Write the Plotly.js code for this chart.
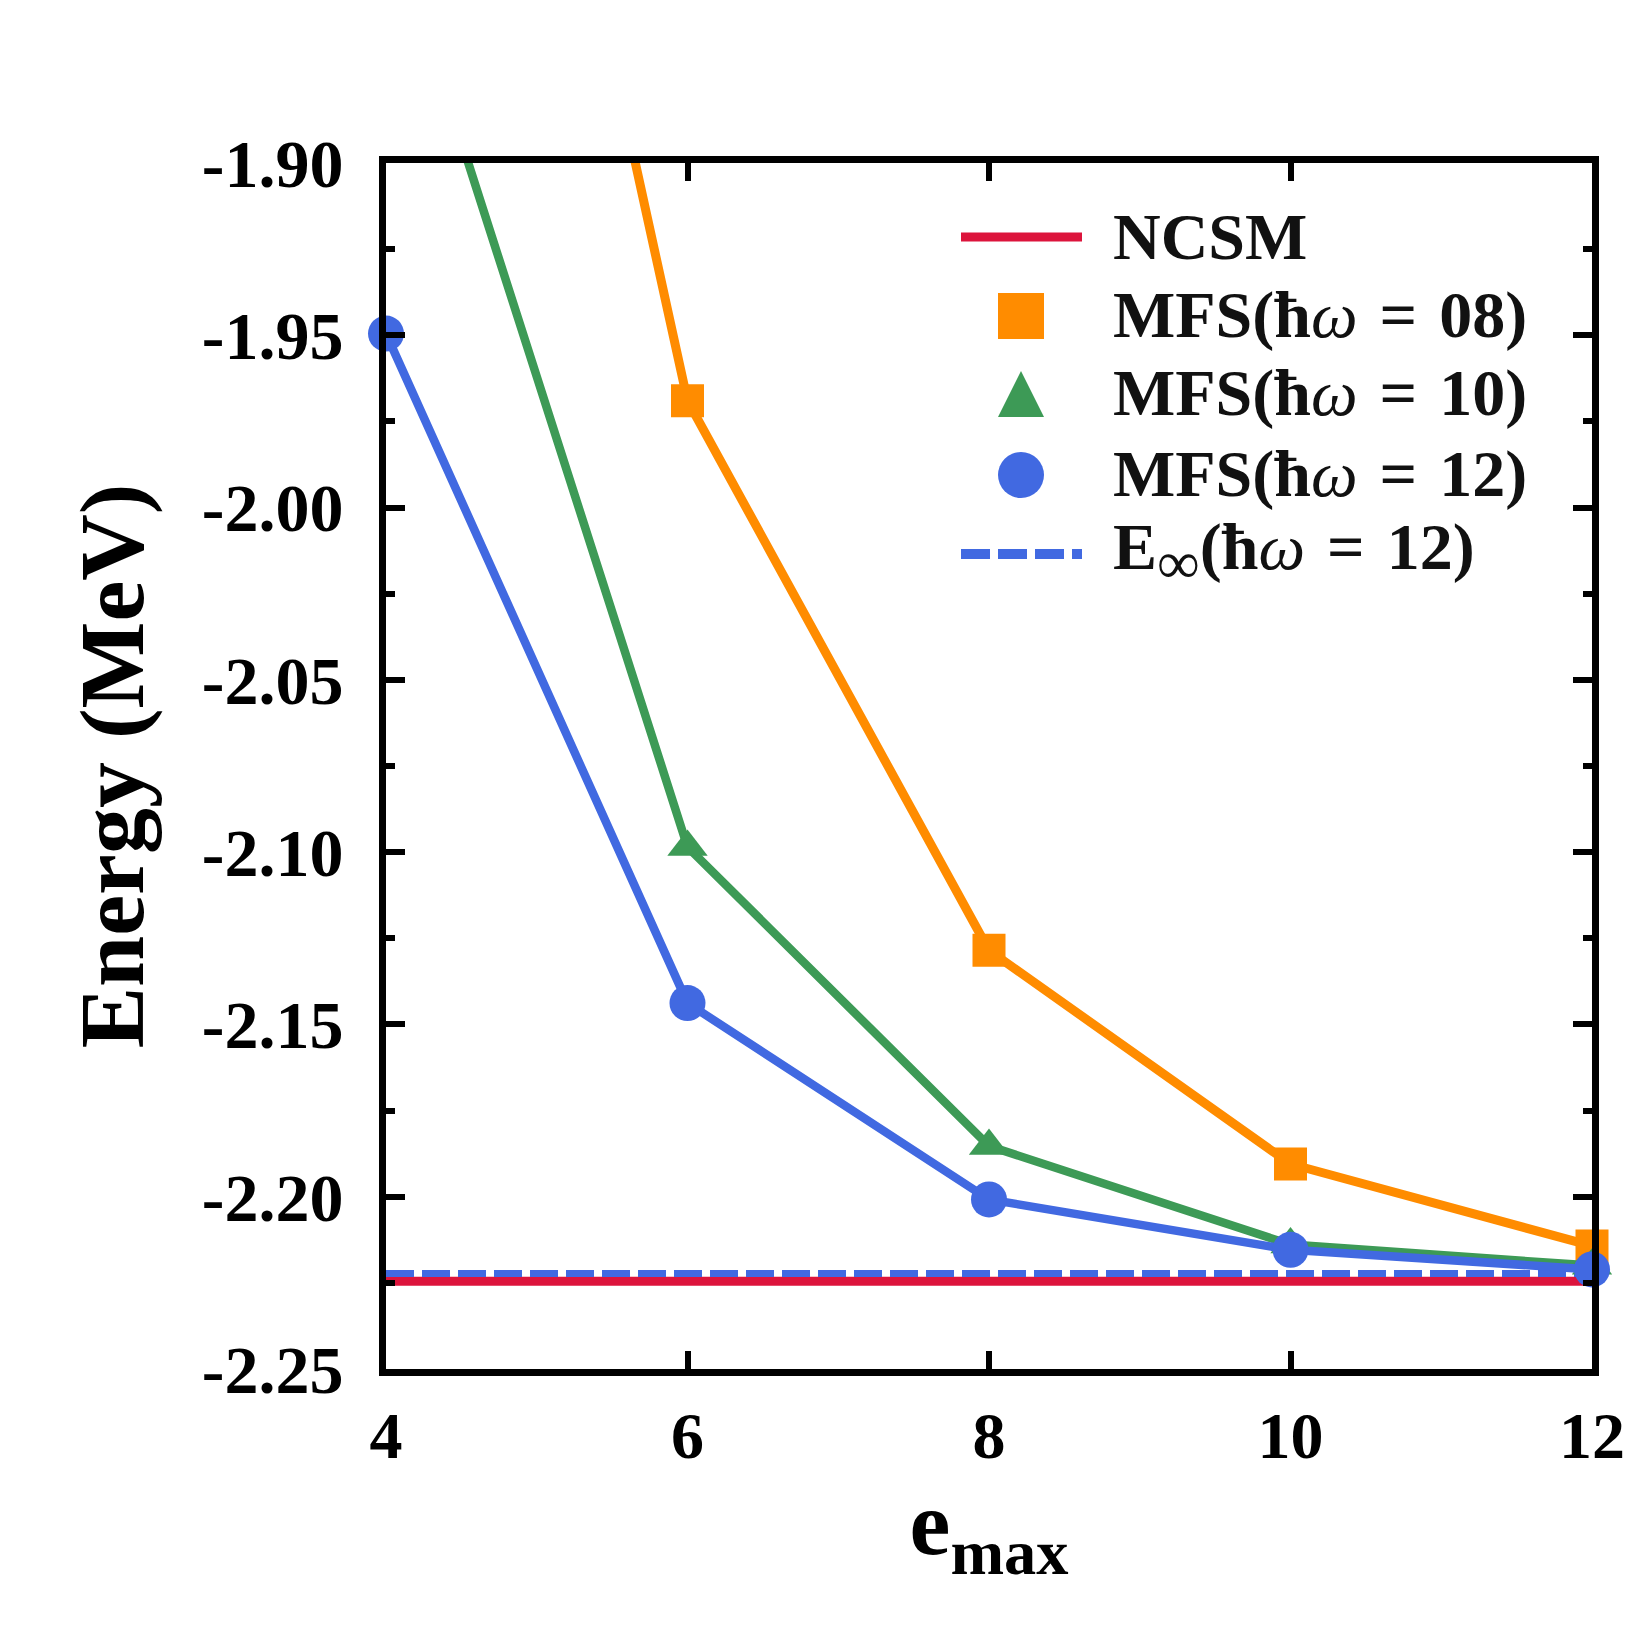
<!DOCTYPE html>
<html>
<head>
<meta charset="utf-8">
<script src="https://cdn.plot.ly/plotly-3.0.1.min.js"></script>
<style>html,body{margin:0;padding:0;background:#fff;}#chart{width:1644px;height:1644px;}</style>
</head>
<body>
<div id="chart"></div>
<script>
// ---- data ----
const EMAX = [4, 6, 8, 10, 12];
const MFS_HW08 = [-1.570, -1.969, -2.1285, -2.1905, -2.2143];
const MFS_HW10 = [-1.8255, -2.0985, -2.1853, -2.2139, -2.2200];
const MFS_HW12 = [-1.9495, -2.1438, -2.2008, -2.2154, -2.2211];
const NCSM_VALUE = -2.2245;
const EINF_HW12 = -2.2223;
const Y_TICKS = [-2.25, -2.20, -2.15, -2.10, -2.05, -2.00, -1.95, -1.90];
const Y_TICK_TEXT = ["-2.25", "-2.20", "-2.15", "-2.10", "-2.05", "-2.00", "-1.95", "-1.90"];
const X_TICKS = [4, 6, 8, 10, 12];
const X_TICK_TEXT = ["4", "6", "8", "10", "12"];
const SP = "\u2004";
const LEGEND_LABELS = [
  "<b>NCSM</b>",
  "<b>MFS(ħ</b><i>ω</i><b>" + SP + "=" + SP + "08)</b>",
  "<b>MFS(ħ</b><i>ω</i><b>" + SP + "=" + SP + "10)</b>",
  "<b>MFS(ħ</b><i>ω</i><b>" + SP + "=" + SP + "12)</b>",
  "<b>E</b><sub><span style=\"font-size:60px\">∞</span></sub><b>(ħ</b><i>ω</i><b>" + SP + "=" + SP + "12)</b>"
];

// ---- styles ----
const RED = "#DC143C", ORANGE = "#FF8C00", GREEN = "#3D9A56", BLUE = "#4169E1";
const FONT = "Liberation Serif, Times New Roman, serif";
const W = 1644, H = 1644;
const M = {l: 386, r: 52, t: 163, b: 275};
const PW = W - M.l - M.r, PH = H - M.t - M.b;
const px = x => (x - M.l) / PW;
const py = y => (M.t + PH - y) / PH;

const xEnds = [EMAX[0], EMAX[EMAX.length - 1]];
const traces = [
  {x: xEnds, y: [NCSM_VALUE, NCSM_VALUE], mode: "lines", name: "NCSM",
   line: {color: RED, width: 9}},
  {x: xEnds, y: [EINF_HW12, EINF_HW12], mode: "lines", name: "E∞(ħω = 12)",
   line: {color: BLUE, width: 7, dash: "28px,8px"}},
  {x: EMAX, y: MFS_HW08, mode: "lines+markers", name: "MFS(ħω = 08)", cliponaxis: false,
   line: {color: ORANGE, width: 9}, marker: {symbol: "square", size: 33, color: ORANGE}},
  {x: EMAX, y: MFS_HW10, mode: "lines+markers", name: "MFS(ħω = 10)", cliponaxis: false,
   line: {color: GREEN, width: 8.5}, marker: {symbol: "triangle-up", size: 35, color: GREEN}},
  {x: EMAX, y: MFS_HW12, mode: "lines+markers", name: "MFS(ħω = 12)", cliponaxis: false,
   line: {color: BLUE, width: 8.5}, marker: {symbol: "circle", size: 36, color: BLUE}}
];

// minor ticks halfway between major ticks
const minorVals = [];
for (let i = 0; i < Y_TICKS.length - 1; i++) minorVals.push((Y_TICKS[i] + Y_TICKS[i + 1]) / 2);

// ---- custom legend (large keys) ----
const rowY = [237, 316, 394, 475, 554];
const keyX = 1021, keyHalf = 23, lineX0 = 961, lineX1 = 1082, textX = 1111;
const shapes = [
  {type: "line", xref: "paper", yref: "paper", x0: px(lineX0), x1: px(lineX1), y0: py(rowY[0]), y1: py(rowY[0]),
   line: {color: RED, width: 9}},
  {type: "rect", xref: "paper", yref: "paper", x0: px(keyX - keyHalf), x1: px(keyX + keyHalf),
   y0: py(rowY[1] + keyHalf), y1: py(rowY[1] - keyHalf), fillcolor: ORANGE, line: {width: 0}},
  {type: "path", xref: "paper", yref: "paper",
   path: `M ${px(keyX - keyHalf)} ${py(rowY[2] + keyHalf)} L ${px(keyX + keyHalf)} ${py(rowY[2] + keyHalf)} L ${px(keyX)} ${py(rowY[2] - keyHalf)} Z`,
   fillcolor: GREEN, line: {width: 0}},
  {type: "circle", xref: "paper", yref: "paper", x0: px(keyX - keyHalf), x1: px(keyX + keyHalf),
   y0: py(rowY[3] + keyHalf), y1: py(rowY[3] - keyHalf), fillcolor: BLUE, line: {width: 0}},
  {type: "line", xref: "paper", yref: "paper", x0: px(lineX0), x1: px(lineX1), y0: py(rowY[4]), y1: py(rowY[4]),
   line: {color: BLUE, width: 10, dash: "29px,8px"}}
];
const annotations = LEGEND_LABELS.map((t, i) => ({
  text: t, xref: "paper", yref: "paper", x: px(textX), y: py(rowY[i] - 1),
  xanchor: "left", yanchor: "middle", showarrow: false,
  font: {family: FONT, size: 66, color: "#111"}
}));

const layout = {
  width: W, height: H,
  margin: M,
  paper_bgcolor: "#fff", plot_bgcolor: "#fff",
  showlegend: false,
  font: {family: FONT, color: "#000"},
  xaxis: {
    range: [4, 12], tickmode: "array", tickvals: X_TICKS, ticktext: X_TICK_TEXT,
    ticks: "inside", ticklen: 18, tickwidth: 6, tickcolor: "#000",
    showline: true, linewidth: 7, linecolor: "#000", mirror: "ticks",
    showgrid: false, zeroline: false, ticklabelstandoff: 3,
    tickfont: {family: FONT, size: 66, weight: "bold", color: "#000"},
    title: {text: "<b>e<sub>max</sub></b>", standoff: 0, font: {family: FONT, size: 92, weight: "bold", color: "#000"}}
  },
  yaxis: {
    range: [-2.25, -1.90], tickmode: "array", tickvals: Y_TICKS, ticktext: Y_TICK_TEXT,
    ticks: "inside", ticklen: 19, tickwidth: 6, tickcolor: "#000",
    minor: {tickmode: "array", tickvals: minorVals, ticks: "inside", ticklen: 9, tickwidth: 6, tickcolor: "#000", showgrid: false},
    showline: true, linewidth: 7, linecolor: "#000", mirror: "ticks",
    showgrid: false, zeroline: false, ticklabelstandoff: 22,
    tickfont: {family: FONT, size: 68, weight: "bold", color: "#000"},
    title: {text: "<b>Energy (MeV)</b>", standoff: 30, font: {family: FONT, size: 92, weight: "bold", color: "#000"}}
  },
  shapes: shapes,
  annotations: annotations
};

Plotly.newPlot("chart", traces, layout, {staticPlot: true, displayModeBar: false});
</script>
</body>
</html>
